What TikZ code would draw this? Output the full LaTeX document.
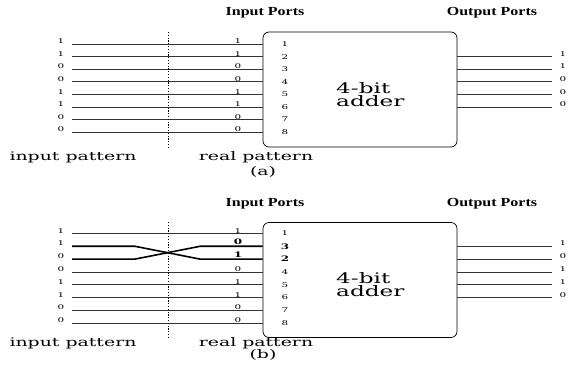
\documentclass[tikz,border=0pt]{standalone}
\usepackage{fontspec}
\usepackage{graphicx}
\setmainfont{DejaVu Serif}
\newfontfamily\portfont{Liberation Serif}
\newcommand{\hs}[1]{\scalebox{1.6}[1]{#1}}
\newcommand{\hp}[1]{\scalebox{1.3}[1]{#1}}
\tikzset{
  wire/.style={line width=0.6pt, black!80},
  boldwire/.style={line width=1.6pt, black},
  dotline/.style={line width=1pt, dash pattern=on 1.2pt off 1.6pt},
  adderbox/.style={draw, line width=0.7pt, rounded corners=6pt, minimum width=194pt, minimum height=115pt, inner sep=0pt},
  digit/.style={inner sep=0.4pt, font=\fontsize{6.5}{7}\selectfont},
  bdigit/.style={inner sep=0.4pt, font=\fontsize{7.5}{8}\selectfont\bfseries},
  lbl/.style={inner sep=0pt, font=\fontsize{11.8}{13}\selectfont},
  portlbl/.style={inner sep=0pt, font=\fontsize{12.3}{13}\selectfont\portfont\bfseries},
  addertext/.style={inner sep=0pt, align=left, font=\fontsize{14.5}{13}\selectfont}
}
\begin{document}
\begin{tikzpicture}[x=1pt,y=-1pt]
\useasboundingbox (0,0) rectangle (568,371);
% ---------------- panel (a)
\node[portlbl] (aIn) at (265,13) {\hp{Input Ports}};
\node[portlbl] (aOut) at (492,13) {\hp{Output Ports}};
\node[adderbox] (aBox) at (360,89.5) {};
\node[addertext, anchor=west] (aTxt) at (336,94.5) {\hs{4-bit}\\\hs{adder}};
\foreach \k/\v in {1/1,2/1,3/0,4/0,5/1,6/1,7/0,8/0} {
  \pgfmathsetmacro\yy{44+12.6*(\k-1)}
  \coordinate (aS\k) at (72,\yy);
  \draw[wire] (aS\k) -- (aS\k -| aBox.west);
  \node[digit, anchor=south] (aL\k) at (61,\yy+0.3) {\hs{\v}};
  \node[digit, anchor=south] (aR\k) at (238,\yy+0.3) {\hs{\v}};
  \node[digit] (aP\k) at (285,\yy) {\hs{\k}};
}
\foreach \k/\v in {2/1,3/1,4/0,5/0,6/0} {
  \pgfmathsetmacro\yy{44+12.6*(\k-1)}
  \coordinate (aO\k) at (552,\yy);
  \draw[wire] (aO\k -| aBox.east) -- (aO\k);
  \node[digit, anchor=south west] (aV\k) at (559,\yy+0.3) {\hs{\v}};
}
\coordinate (aD1) at (168,32);
\coordinate (aD2) at (168,147);
\draw[dotline] (aD1) -- (aD2);
\node[lbl] (aIP) at (73,157) {\hs{input pattern}};
\node[lbl] (aRP) at (256,157) {\hs{real pattern}};
\node[lbl] (aCap) at (263,172) {\hs{(a)}};
% ---------------- panel (b)
\node[portlbl] (bIn) at (265,204) {\hp{Input Ports}};
\node[portlbl] (bOut) at (492,204) {\hp{Output Ports}};
\node[adderbox] (bBox) at (360,280) {};
\node[addertext, anchor=west] (bTxt) at (336,285) {\hs{4-bit}\\\hs{adder}};
\foreach \k/\v in {1/1,4/0,5/1,6/1,7/0,8/0} {
  \pgfmathsetmacro\yy{233.5+12.8*(\k-1)}
  \coordinate (bS\k) at (72,\yy);
  \draw[wire] (bS\k) -- (bS\k -| bBox.west);
  \node[digit, anchor=south] (bL\k) at (61,\yy+0.3) {\hs{\v}};
  \node[digit, anchor=south] (bR\k) at (238,\yy+0.3) {\hs{\v}};
  \node[digit] (bP\k) at (285,\yy) {\hs{\k}};
}
% crossed lines 2 and 3
\coordinate (bS2) at (72,246.3);
\coordinate (bS3) at (72,259.1);
\coordinate (bK2) at (135,246.3);
\coordinate (bK3) at (135,259.1);
\coordinate (bM2) at (200,246.3);
\coordinate (bM3) at (200,259.1);
\draw[boldwire] (bS2) -- (bK2) -- (bM3) -- (bM3 -| bBox.west);
\draw[boldwire] (bS3) -- (bK3) -- (bM2) -- (bM2 -| bBox.west);
\node[digit, anchor=south] (bL2) at (61,246.6) {\hs{1}};
\node[digit, anchor=south] (bL3) at (61,259.4) {\hs{0}};
\node[bdigit, anchor=south] (bR2) at (238,245.4) {\hs{0}};
\node[bdigit, anchor=south] (bR3) at (238,258.2) {\hs{1}};
\node[bdigit] (bP2) at (285,246.3) {\hs{3}};
\node[bdigit] (bP3) at (285,259.1) {\hs{2}};
\foreach \k/\v in {2/1,3/0,4/1,5/1,6/0} {
  \pgfmathsetmacro\yy{233.5+12.8*(\k-1)}
  \coordinate (bO\k) at (552,\yy);
  \draw[wire] (bO\k -| bBox.east) -- (bO\k);
  \node[digit, anchor=south west] (bV\k) at (559,\yy+0.3) {\hs{\v}};
}
\coordinate (bD1) at (168,222);
\coordinate (bD2) at (168,337);
\draw[dotline] (bD1) -- (bD2);
\node[lbl] (bIP) at (73,343) {\hs{input pattern}};
\node[lbl] (bRP) at (256,343) {\hs{real pattern}};
\node[lbl] (bCap) at (263,355) {\hs{(b)}};
\end{tikzpicture}
\end{document}
